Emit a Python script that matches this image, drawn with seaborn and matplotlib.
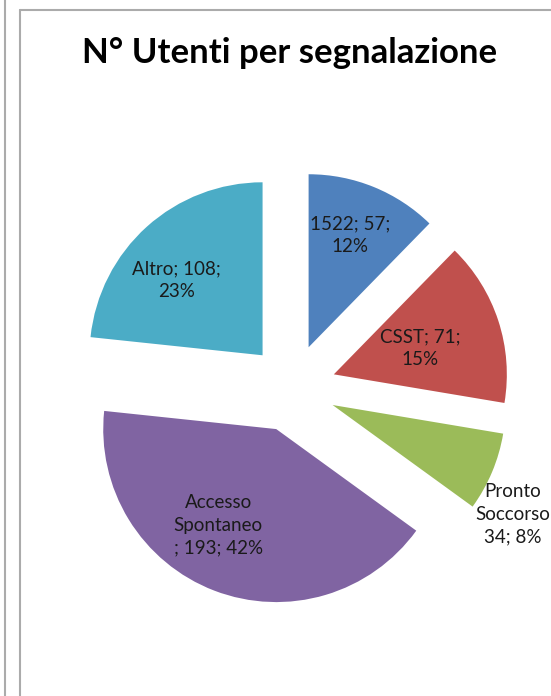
import numpy as np
import matplotlib
matplotlib.use("Agg")
import matplotlib.pyplot as plt
from matplotlib.lines import Line2D
import seaborn as sns

# Data
categories = ["1522", "CSST", "Pronto Soccorso", "Accesso Spontaneo", "Altro"]
counts = [57, 71, 34, 193, 108]
percents = [12, 15, 8, 42, 23]
label_texts = [
    "1522; 57;\n12%",
    "CSST; 71;\n15%",
    "Pronto\nSoccorso\n34; 8%",
    "Accesso\nSpontaneo\n; 193; 42%",
    "Altro; 108;\n23%",
]
colors = ["#4F81BD", "#C0504D", "#9BBB59", "#8064A2", "#4BACC6"]

# Layout (pixel units, y up)
W, H = 551, 696
center = (292, 308)
radius = 173
explode_px = 44
label_dist = [0.69, 0.52, 1.22, 0.65, 0.66]   # fraction of radius from wedge tip
label_turn = [2, -1, -8.5, -10, 7]           # degrees off the bisector

sns.set_theme(style="white")
plt.rcParams["font.family"] = ["Lato", "DejaVu Sans"]

fig = plt.figure(figsize=(W / 100, H / 100), dpi=100)
ax = fig.add_axes([0, 0, 1, 1])

wedges, _ = ax.pie(
    counts,
    colors=sns.color_palette(colors),
    startangle=90,
    counterclock=False,
    radius=radius,
    center=center,
    explode=[explode_px] * len(counts),
    wedgeprops={"linewidth": 0},
    frame=False,
)
ax.set_xlim(0, W)
ax.set_ylim(0, H)
ax.set_aspect("auto")
ax.axis("off")

for w, txt, f, turn in zip(wedges, label_texts, label_dist, label_turn):
    ang = np.deg2rad((w.theta1 + w.theta2) / 2 + turn)
    cx, cy = w.center
    ax.text(cx + f * radius * np.cos(ang), cy + f * radius * np.sin(ang), txt,
            ha="center", va="center", fontsize=13.5, color="#1a1a1a",
            linespacing=1.42)

ax.text(290, H - 53, "N° Utenti per segnalazione", ha="center", va="center",
        fontsize=25, fontweight="bold", color="#000000")

# outer frame lines (chart border, cropped)
line_kw = dict(color="#ababab", lw=1.5, transform=fig.transFigure)
fig.add_artist(Line2D([4.5 / W, 4.5 / W], [0, 1], **line_kw))
fig.add_artist(Line2D([19.5 / W, 19.5 / W], [0, 1 - 9.5 / H], **line_kw))
fig.add_artist(Line2D([19.5 / W, 1], [1 - 9.5 / H, 1 - 9.5 / H], **line_kw))

fig.savefig("out.png", dpi=100, facecolor="white")
plt.close(fig)
